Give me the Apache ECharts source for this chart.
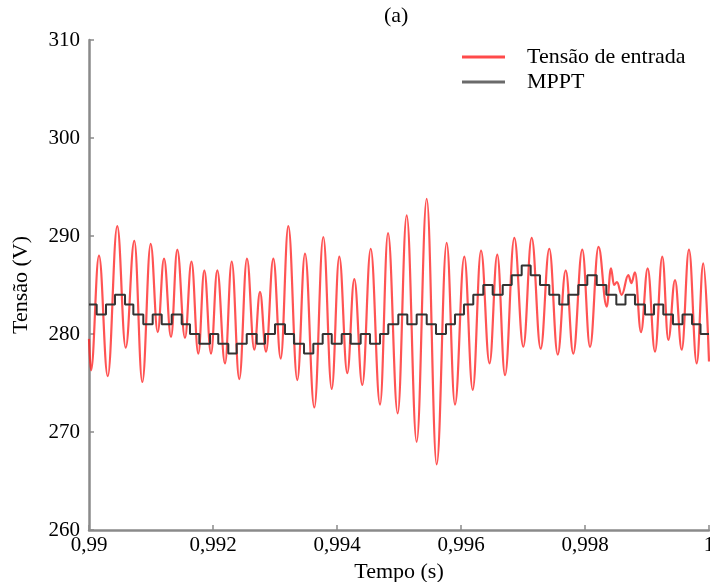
<!DOCTYPE html>
<html>
<head>
<meta charset="utf-8">
<script src="https://cdn.jsdelivr.net/npm/echarts@6/dist/echarts.min.js"></script>
<style>
html,body{margin:0;padding:0;background:#fff;overflow:hidden;}
#c{width:710px;height:582px;}
</style>
</head>
<body>
<div id="c"></div>
<script>
// Tensão de entrada: times (s) and values (V) of the waveform's turning points
const vinTime = [
0.990000,0.990032,0.990161,0.990302,0.990456,0.990592,0.990731,0.990860,0.990995,0.991108,
0.991210,0.991323,0.991424,0.991548,0.991653,0.991763,0.991860,0.991968,0.992069,0.992194,
0.992302,0.992424,0.992548,0.992666,0.992758,0.992855,0.992973,0.993092,0.993215,0.993360,
0.993484,0.993634,0.993779,0.993915,0.994037,0.994166,0.994279,0.994408,0.994544,0.994694,
0.994823,0.994979,0.995124,0.995285,0.995447,0.995608,0.995769,0.995903,0.996053,0.996189,
0.996323,0.996460,0.996585,0.996710,0.996860,0.997005,0.997140,0.997285,0.997424,0.997560,
0.997689,0.997811,0.997956,0.998081,0.998218,0.998350,0.998419,0.998468,0.998516,0.998592,
0.998698,0.998750,0.998806,0.998903,0.999011,0.999129,0.999247,0.999344,0.999452,0.999560,
0.999677,0.999802,0.999908,1.000000
];
const vinValue = [
279.5,276.3,288.0,275.7,291.0,278.6,289.5,275.1,289.2,280.2,
287.7,279.7,288.6,279.6,287.4,278.0,286.5,278.0,286.5,277.0,
287.4,275.4,287.7,278.4,284.3,278.2,287.7,277.5,291.0,275.3,
288.2,272.5,289.9,274.4,287.9,276.0,285.6,274.8,288.7,272.8,
290.3,271.9,292.1,269.0,293.8,266.7,289.3,272.8,287.9,274.3,
288.5,277.0,288.1,275.8,289.8,278.7,289.8,278.5,288.7,277.9,
286.5,278.0,288.6,278.7,288.9,282.8,286.7,285.0,285.3,284.0,
286.0,285.2,286.3,280.2,286.7,278.2,287.9,279.4,285.5,278.4,
288.6,277.0,287.2,277.2
];

// MPPT: start time of each step (s) and its level (V)
const mpptTime = [
0.990000,0.990124,0.990274,0.990419,0.990581,0.990715,0.990876,0.991027,0.991173,0.991334,
0.991495,0.991629,0.991779,0.991952,0.992085,0.992247,0.992382,0.992544,0.992705,0.992839,
0.993000,0.993161,0.993306,0.993468,0.993618,0.993769,0.993915,0.994076,0.994221,0.994382,
0.994532,0.994694,0.994827,0.994989,0.995134,0.995285,0.995447,0.995597,0.995758,0.995903,
0.996048,0.996198,0.996360,0.996511,0.996673,0.996818,0.996979,0.997124,0.997274,0.997424,
0.997585,0.997731,0.997892,0.998037,0.998189,0.998344,0.998505,0.998653,0.998806,0.998968,
0.999113,0.999263,0.999419,0.999573,0.999726,0.999863,1.000000
];
const mpptValue = [
283,282,283,284,283,282,281,282,281,282,
281,280,279,280,279,278,279,280,279,280,
281,280,279,278,279,280,279,280,279,280,
279,280,281,282,281,282,281,280,281,282,
283,284,285,284,285,286,287,286,285,284,
283,284,285,286,285,284,283,284,283,282,
283,282,281,282,281,280,280
];

const seriesNames = ['Tensão de entrada', 'MPPT'];
const xTickLabels = ['0,99', '0,992', '0,994', '0,996', '0,998', '1'];
const yTickLabels = ['260', '270', '280', '290', '300', '310'];
const titleText = '(a)';
const xName = 'Tempo (s)';
const yName = 'Tensão (V)';

const FONT = 'Liberation Serif';
const chart = echarts.init(document.getElementById('c'), null, {renderer: 'canvas'});
chart.setOption({
  animation: false,
  backgroundColor: '#fff',
  title: {
    text: titleText, left: 384, top: 5, padding: 0,
    textStyle: {fontFamily: FONT, fontSize: 22, fontWeight: 'normal', color: '#000'}
  },
  legend: {
    orient: 'vertical', left: 462, top: 46, padding: 0,
    itemWidth: 43, itemHeight: 3, itemGap: 3, icon: 'rect',
    textStyle: {fontFamily: FONT, fontSize: 22, lineHeight: 22, color: '#000', padding: [0, 0, 0, 17]},
    data: [
      {name: seriesNames[0], itemStyle: {color: '#ff4a4a'}},
      {name: seriesNames[1], itemStyle: {color: '#6a6a6a'}}
    ]
  },
  grid: {left: 89, right: 1, top: 40, bottom: 52, containLabel: false, outerBoundsMode: 'none'},
  xAxis: {
    type: 'value', min: 0.99, max: 1.0, interval: 0.002,
    name: xName, nameLocation: 'middle', nameGap: 24,
    nameTextStyle: {fontFamily: FONT, fontSize: 22, color: '#000'},
    axisLine: {show: true, onZero: false, lineStyle: {color: '#8a8a8a', width: 2.5}},
    axisTick: {show: true, inside: true, length: 5, lineStyle: {color: '#8a8a8a', width: 1.5}},
    splitLine: {show: false},
    axisLabel: {
      fontFamily: FONT, fontSize: 21, color: '#000', margin: 5,
      formatter: function (v) { return xTickLabels[Math.round((v - 0.99) / 0.002)]; }
    }
  },
  yAxis: {
    type: 'value', min: 260, max: 310, interval: 10,
    name: yName, nameLocation: 'middle', nameGap: 57,
    nameTextStyle: {fontFamily: FONT, fontSize: 22, color: '#000'},
    axisLine: {show: true, lineStyle: {color: '#8a8a8a', width: 2.5}},
    axisTick: {show: true, inside: true, length: 5, lineStyle: {color: '#8a8a8a', width: 1.5}},
    splitLine: {show: false},
    axisLabel: {
      fontFamily: FONT, fontSize: 21, color: '#000', margin: 9,
      formatter: function (v) { return yTickLabels[Math.round((v - 260) / 10)]; }
    }
  },
  series: [
    {
      name: seriesNames[0], type: 'line', symbol: 'none', smooth: 0.4, smoothMonotone: 'x',
      data: vinTime.map((t, i) => [t, vinValue[i]]),
      lineStyle: {color: 'rgba(255,25,25,0.75)', width: 2.2},
      itemStyle: {color: '#ff4a4a'}, z: 2
    },
    {
      name: seriesNames[1], type: 'line', symbol: 'none', step: 'end',
      data: mpptTime.map((t, i) => [t, mpptValue[i]]),
      lineStyle: {color: '#333', width: 2},
      itemStyle: {color: '#6a6a6a'}, z: 3
    }
  ]
});
</script>
</body>
</html>
